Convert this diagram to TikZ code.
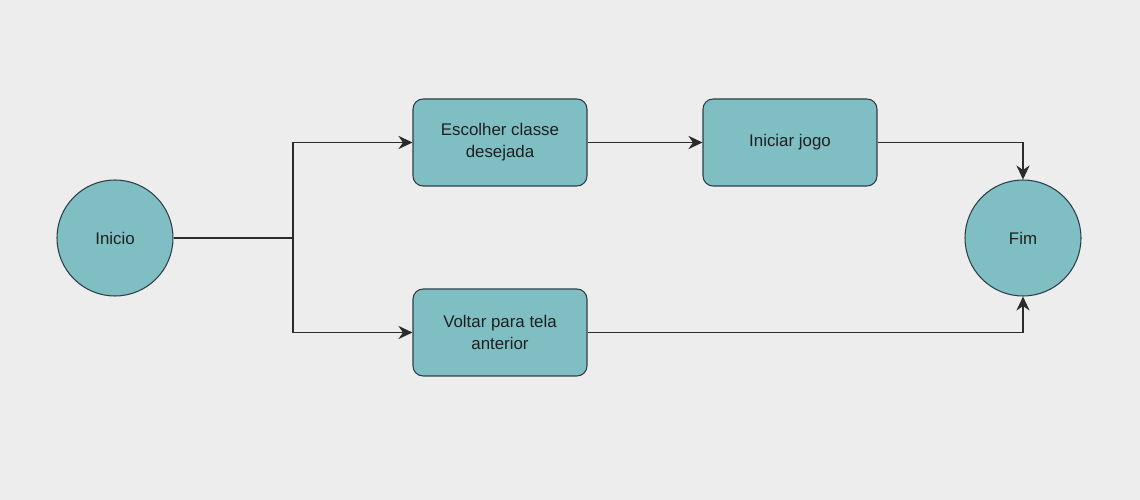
\documentclass[tikz,border=0pt]{standalone}
\usepackage{fontspec}
\setmainfont{Liberation Sans}
\usetikzlibrary{arrows.meta}
\definecolor{Fondo}{HTML}{EDEDED}
\definecolor{Relleno}{HTML}{7FBFC3}
\definecolor{Borde}{HTML}{2E3D48}
\definecolor{Texto}{HTML}{1F1F1F}
\definecolor{Linea}{HTML}{2B2B2B}
\tikzset{
  estado/.style={circle, draw=Borde, fill=Relleno, line width=0.6pt,
    minimum size=2.32cm, inner sep=0pt, text=Texto,
    font=\fontsize{9.6}{12.5}\selectfont},
  paso/.style={rectangle, rounded corners=0.2cm, draw=Borde, fill=Relleno,
    line width=0.6pt, minimum width=3.48cm, minimum height=1.74cm,
    align=center, text=Texto,
    font=\fontsize{9.6}{12.5}\selectfont},
  flecha/.style={draw=Linea, line width=0.75pt,
    -{Stealth[length=8pt,width=7.5pt,inset=2.6pt]}},
}

\begin{document}
\begin{tikzpicture}[x=0.02cm, y=-0.02cm]

\useasboundingbox[fill=Fondo] (0, 0) rectangle (1140, 500);

% Estados inicial y final
\node[estado] (Inicio) at (115, 238) {Inicio};
\node[estado] (Fim) at (1023, 238) {Fim};

% Pasos
\node[paso] (Escolher) at (500, 142.5) {Escolher classe\\desejada};
\node[paso] (Iniciar) at (790, 142.5) {Iniciar jogo};
\node[paso] (Voltar) at (500, 332.5) {Voltar para tela\\anterior};

% Punto de bifurcacion
\coordinate (Rama) at (293, 238);

% Conexiones
\draw[line width=0.75pt, draw=Linea] (Inicio.east) -- (Rama);
\draw[flecha] (Rama) |- (Escolher.west);
\draw[flecha] (Rama) |- (Voltar.west);
\draw[flecha] (Escolher) -- (Iniciar);
\draw[flecha] (Iniciar.east) -| (Fim.north);
\draw[flecha] (Voltar.east) -| (Fim.south);

\end{tikzpicture}
\end{document}
